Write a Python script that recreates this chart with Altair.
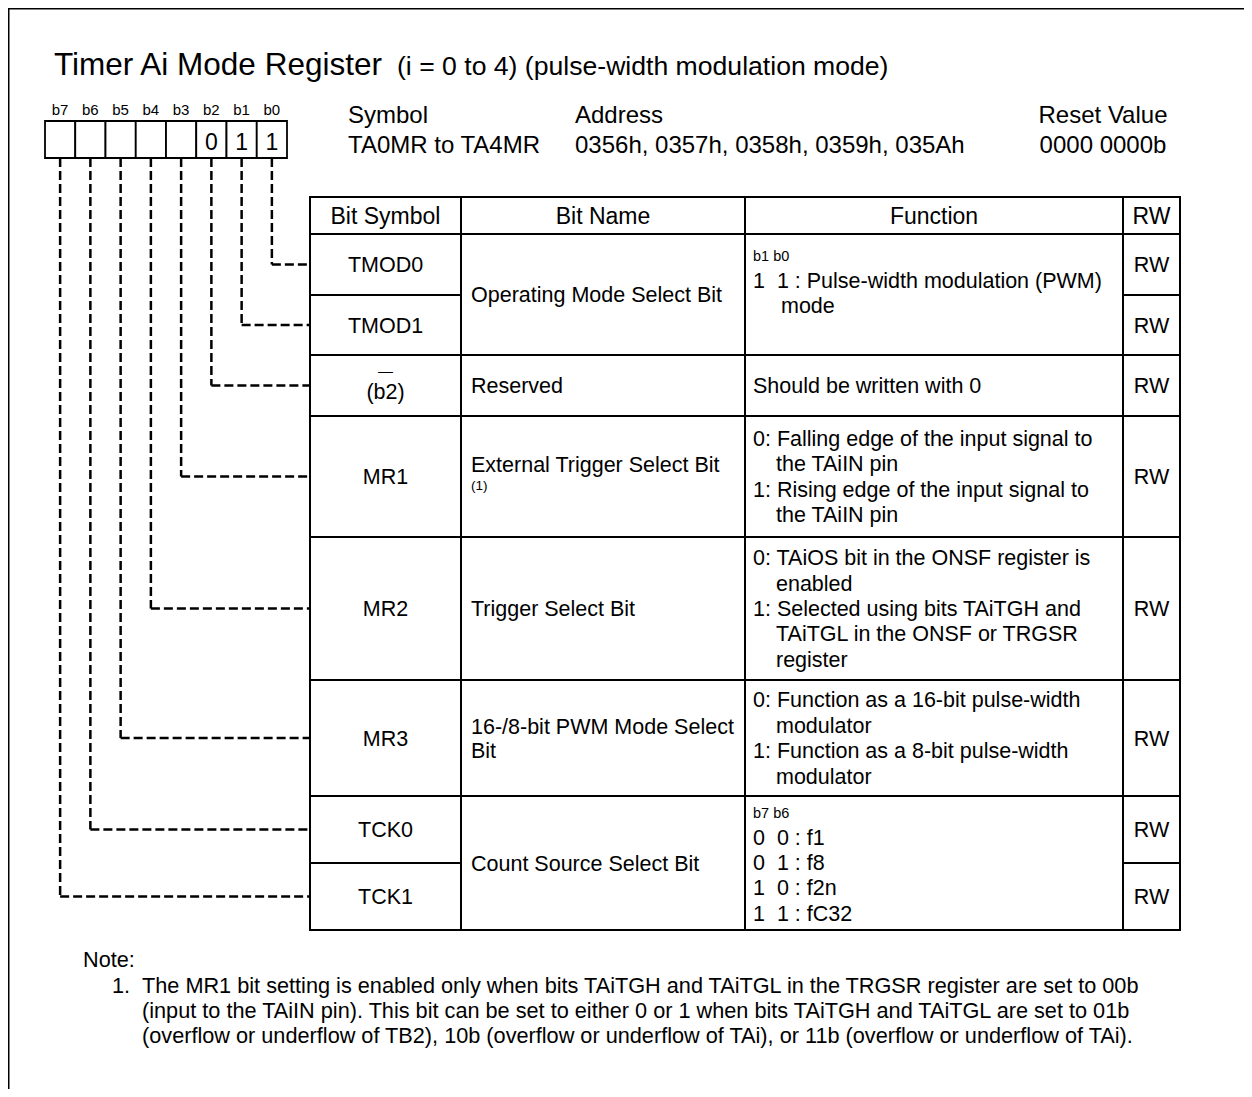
import altair as alt
import pandas as pd

# ---------------- content (data) ----------------
NB = "\u00a0"
title_main = "Timer Ai Mode Register"
title_sub = "(i = 0 to 4) (pulse-width modulation mode)"
info_heads = ["Symbol", "Address", "Reset Value"]
info_values = ["TA0MR to TA4MR", "0356h, 0357h, 0358h, 0359h, 035Ah", "0000 0000b"]
bit_labels = ["b7", "b6", "b5", "b4", "b3", "b2", "b1", "b0"]
bit_values = ["", "", "", "", "", "0", "1", "1"]
col_headers = ["Bit Symbol", "Bit Name", "Function", "RW"]
row_symbols = [["TMOD0"], ["TMOD1"], ["\u2014", "(b2)"], ["MR1"], ["MR2"], ["MR3"], ["TCK0"], ["TCK1"]]
row_access = ["RW", "RW", "RW", "RW", "RW", "RW", "RW", "RW"]
bit_names = [
    ["Operating Mode Select Bit"],
    ["Reserved"],
    ["External Trigger Select Bit", "(1)"],
    ["Trigger Select Bit"],
    ["16-/8-bit PWM Mode Select", "Bit"],
    ["Count Source Select Bit"],
]
name_rows = [[0, 1], [2], [3], [4], [5], [6, 7]]
functions = [
    ["b1 b0", "1" + NB + NB + "1 : Pulse-width modulation (PWM)", "mode"],
    ["Should be written with 0"],
    ["0: Falling edge of the input signal to", "the TAiIN pin",
     "1: Rising edge of the input signal to", "the TAiIN pin"],
    ["0: TAiOS bit in the ONSF register is", "enabled",
     "1: Selected using bits TAiTGH and", "TAiTGL in the ONSF or TRGSR", "register"],
    ["0: Function as a 16-bit pulse-width", "modulator",
     "1: Function as a 8-bit pulse-width", "modulator"],
    ["b7 b6", "0" + NB + NB + "0 : f1", "0" + NB + NB + "1 : f8",
     "1" + NB + NB + "0 : f2n", "1" + NB + NB + "1 : fC32"],
]
note_head = "Note:"
note_num = "1."
note_lines = [
    "The MR1 bit setting is enabled only when bits TAiTGH and TAiTGL in the TRGSR register are set to 00b",
    "(input to the TAiIN pin). This bit can be set to either 0 or 1 when bits TAiTGH and TAiTGL are set to 01b",
    "(overflow or underflow of TB2), 10b (overflow or underflow of TAi), or 11b (overflow or underflow of TAi).",
]

# ---------------- layout (styles / positions) ----------------
W, H = 1236, 1081
OX, OY = 8, 8
FONT = "Liberation Sans"
col_x = [310, 461, 745, 1123, 1180]
header_top = 197
row_edges = [234, 295, 355, 416, 537, 680, 796, 863, 930]
box_left, box_w, box_top, box_bottom = 45, 30.25, 121, 158
BODY = 21.5
NOTE = 21.7
INFO = 24
LH = 25.4
sym_kinds = [["n"], ["n"], ["dash", "b2"], ["n"], ["n"], ["n"], ["n"], ["n"]]
name_kinds = [["n"], ["n"], ["n", "sup"], ["n"], ["n", "n"], ["n"]]
func_kinds = [["s", "i", "m"], ["i"], ["i", "c", "i", "c"], ["i", "c", "i", "c", "c"],
              ["i", "c", "i", "c"], ["s", "i", "i", "i", "i"]]
func_top_pad = [27, None, None, None, None, 22]
kind_x = {"s": 753, "i": 753, "c": 776, "m": 781}
kind_size = {"s": 14.5, "i": BODY, "c": BODY, "m": BODY}

texts = []


def T(text, x, y, size, align="left"):
    if text != "":
        texts.append(dict(text=text, x=x, y=y, size=size, align=align))


# title
T(title_main, 54, 75, 31.5)
T(title_sub, 397, 75, 26.6)
# register info
T(info_heads[0], 348, 123, INFO)
T(info_values[0], 348, 153, INFO)
T(info_heads[1], 575, 123, INFO)
T(info_values[1], 575, 153, INFO)
T(info_heads[2], 1103, 123, INFO, "center")
T(info_values[2], 1103, 153, INFO, "center")
# bit boxes labels / values
box_cx = [box_left + box_w * (i + 0.5) for i in range(8)]
for i in range(8):
    T(bit_labels[i], box_cx[i], 115, 15, "center")
    T(bit_values[i], box_cx[i], 149.5, 23, "center")
# header
col_cx = [(col_x[i] + col_x[i + 1]) / 2 for i in range(4)]
for i, h in enumerate(col_headers):
    T(h, col_cx[i], 223.5, 23, "center")
# symbols & access
row_cy = [(row_edges[r] + row_edges[r + 1]) / 2 for r in range(8)]
for r in range(8):
    c = row_cy[r]
    for line, k in zip(row_symbols[r], sym_kinds[r]):
        if k == "n":
            T(line, col_cx[0], c + 7.5, BODY, "center")
        elif k == "dash":
            T(line, col_cx[0], c - 10, 15, "center")
        else:
            T(line, col_cx[0], c + 13, BODY, "center")
    T(row_access[r], col_cx[3], c + 7.5, BODY, "center")
# bit names
for g, lines in enumerate(bit_names):
    top = row_edges[name_rows[g][0]]
    bot = row_edges[name_rows[g][-1] + 1]
    c = (top + bot) / 2
    n = len(lines)
    prev = None
    for i, (line, k) in enumerate(zip(lines, name_kinds[g])):
        if k == "sup":
            T(line, 471, prev + 18, 13.5)
        else:
            y = c + 7.5 + (i - (n - 1) / 2) * 24
            T(line, 471, y, BODY)
            prev = y
# functions
for g, lines in enumerate(functions):
    top = row_edges[name_rows[g][0]]
    bot = row_edges[name_rows[g][-1] + 1]
    kinds = func_kinds[g]
    n = len(lines)
    if func_top_pad[g] is None:
        c = (top + bot) / 2
        ys = [c + 7.5 + (i - (n - 1) / 2) * LH for i in range(n)]
    else:
        ys = []
        y = top + func_top_pad[g]
        for k in kinds:
            ys.append(y)
            y += 26.5 if k == "s" else LH
    for line, k, y in zip(lines, kinds, ys):
        T(line, kind_x[k], y, kind_size[k])
# notes
T(note_head, 83, 967, NOTE)
T(note_num, 112, 992.5, NOTE)
for i, line in enumerate(note_lines):
    T(line, 142, 992.5 + i * 25, NOTE)

text_df = pd.DataFrame(texts)

# rules
solid = []
for xv in col_x:
    solid.append(dict(x=xv, x2=xv, y=header_top, y2=row_edges[-1], w=2))
h_full = [header_top] + [row_edges[0], row_edges[-1]]
partial = []
for r in range(1, 8):
    same = any((r - 1) in grp and r in grp for grp in name_rows)
    (partial if same else h_full).append(row_edges[r])
for yv in h_full:
    solid.append(dict(x=col_x[0], x2=col_x[-1], y=yv, y2=yv, w=2))
for yv in partial:
    solid.append(dict(x=col_x[0], x2=col_x[1], y=yv, y2=yv, w=2))
    solid.append(dict(x=col_x[3], x2=col_x[4], y=yv, y2=yv, w=2))
# outer frame
solid.append(dict(x=7.5, x2=OX + W, y=7.5, y2=7.5, w=4))
solid.append(dict(x=7.5, x2=7.5, y=7.5, y2=OY + H, w=4))
solid_df = pd.DataFrame(solid)

dashed = []
for r in range(8):
    bx = box_cx[7 - r]
    dashed.append(dict(x=bx, x2=bx, y=box_bottom, y2=row_cy[r]))
    dashed.append(dict(x=bx, x2=col_x[0], y=row_cy[r], y2=row_cy[r]))
dashed_df = pd.DataFrame(dashed)

boxes_df = pd.DataFrame([dict(x=box_left + box_w * i, x2=box_left + box_w * (i + 1),
                              y=box_top, y2=box_bottom, bit=bit_labels[i]) for i in range(8)])

xs = alt.Scale(domain=[OX, OX + W], range=[0, W], nice=False, zero=False)
ys = alt.Scale(domain=[OY, OY + H], range=[0, H], nice=False, zero=False)
X = alt.X("x:Q", scale=xs, axis=None)
Y = alt.Y("y:Q", scale=ys, axis=None)

solid_layer = alt.Chart(solid_df).mark_rule(color="black", strokeCap="square").encode(
    x=X, x2="x2:Q", y=Y, y2="y2:Q", strokeWidth=alt.StrokeWidth("w:Q", scale=None))
dashed_layer = alt.Chart(dashed_df).mark_rule(
    color="black", strokeWidth=2.5, strokeDash=[9, 4], strokeCap="butt").encode(
    x=X, x2="x2:Q", y=Y, y2="y2:Q")
box_layer = alt.Chart(boxes_df).mark_rect(fill="white", stroke="black", strokeWidth=1.8).encode(
    x=X, x2="x2:Q", y=Y, y2="y2:Q")

text_layers = []
for al in ["left", "center"]:
    sub = text_df[text_df["align"] == al]
    text_layers.append(
        alt.Chart(sub).mark_text(align=al, baseline="alphabetic", font=FONT, color="black").encode(
            x=X, y=Y, text="text:N", size=alt.Size("size:Q", scale=None)))

chart = alt.layer(dashed_layer, solid_layer, box_layer, *text_layers).properties(
    width=W, height=H, padding=0, autosize="none", background="white"
).configure_view(stroke=None)

chart.save("out.html", embed_options={"renderer": "svg", "actions": False})
